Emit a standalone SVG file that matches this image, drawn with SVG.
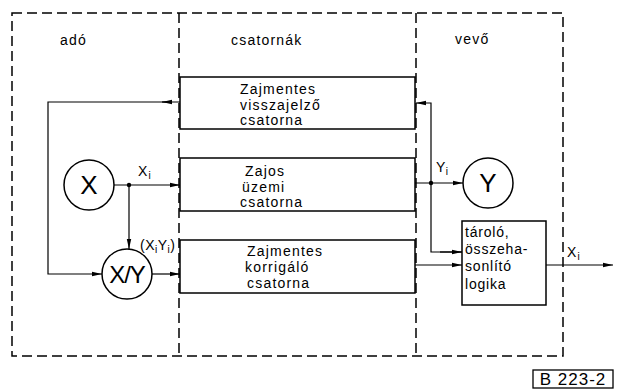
<svg xmlns="http://www.w3.org/2000/svg" width="619" height="391" viewBox="0 0 619 391">
<defs>
<style>
.t{font-family:"Liberation Sans",Arial,sans-serif;font-size:14px;fill:#000;letter-spacing:1.2px}
.s{font-size:10px}
.big{font-family:"Liberation Sans",Arial,sans-serif;font-size:26px;fill:#000}
.dash{fill:none;stroke:#000;stroke-width:1.5;stroke-dasharray:10 5}
.box{fill:#fff;stroke:#000;stroke-width:1.5}
.ln{fill:none;stroke:#000;stroke-width:1.2}
</style>
<marker id="ah" viewBox="0 0 10 6" refX="10" refY="3" markerWidth="10" markerHeight="6" markerUnits="userSpaceOnUse" orient="auto">
<path d="M0,0.8 L10,3 L0,5.2 Z" fill="#000"/>
</marker>
</defs>
<rect width="619" height="391" fill="#fff"/>
<g id="frame">
<rect class="dash" x="12" y="13" width="551" height="343"/>
<line class="dash" x1="179" y1="13" x2="179" y2="356"/>
<line class="dash" x1="416" y1="13" x2="416" y2="356"/>
<text class="t" x="60" y="45">adó</text>
<text class="t" x="231" y="45">csatornák</text>
<text class="t" x="455" y="44">vevő</text>
</g>
<g id="connectors">
<path class="ln" d="M180,102 H48 V274 H102" marker-end="url(#ah)"/>
<line class="ln" x1="170" y1="102" x2="162" y2="102" marker-end="url(#ah)"/>
<line class="ln" x1="114" y1="185" x2="180" y2="185" marker-end="url(#ah)"/>
<line class="ln" x1="129" y1="185" x2="129" y2="249" marker-end="url(#ah)"/>
<line class="ln" x1="152" y1="274" x2="180" y2="274" marker-end="url(#ah)"/>
<path class="ln" d="M462,252 H431 V103 H416" marker-end="url(#ah)"/>
<line class="ln" x1="440" y1="252" x2="462" y2="252" marker-end="url(#ah)"/>
<line class="ln" x1="415" y1="183" x2="463" y2="183" marker-end="url(#ah)"/>
<line class="ln" x1="415" y1="265" x2="462" y2="265" marker-end="url(#ah)"/>
<line class="ln" x1="546" y1="265" x2="613" y2="265" marker-end="url(#ah)"/>
<circle cx="129" cy="185" r="2.2" fill="#000"/>
<circle cx="431" cy="183" r="2.2" fill="#000"/>
<text class="t" x="138" y="176">X<tspan class="s" dy="3">i</tspan></text>
<text class="t" x="140" y="250" style="letter-spacing:0.5px">(X<tspan class="s" dy="3">i</tspan><tspan dy="-3">Y</tspan><tspan class="s" dy="3">i</tspan><tspan dy="-3">)</tspan></text>
<text class="t" x="436" y="172" style="letter-spacing:0.5px">Y<tspan class="s" dy="3">i</tspan></text>
<text class="t" x="567" y="257">X<tspan class="s" dy="3">i</tspan></text>
</g>
<g id="ch1">
<rect class="box" x="180" y="77" width="235" height="52"/>
<text class="t" x="240" y="94">Zajmentes</text>
<text class="t" x="240" y="110">visszajelző</text>
<text class="t" x="240" y="125">csatorna</text>
</g>
<g id="ch2">
<rect class="box" x="180" y="158" width="235" height="53"/>
<text class="t" x="245" y="176">Zajos</text>
<text class="t" x="242" y="192">üzemi</text>
<text class="t" x="240" y="207">csatorna</text>
</g>
<g id="ch3">
<rect class="box" x="180" y="240" width="235" height="53"/>
<text class="t" x="247" y="256">Zajmentes</text>
<text class="t" x="245" y="272">korrigáló</text>
<text class="t" x="247" y="288">csatorna</text>
</g>
<g id="nodeX">
<circle class="box" cx="89" cy="185" r="25"/>
<text class="big" x="89" y="194" text-anchor="middle">X</text>
</g>
<g id="nodeXY">
<circle class="box" cx="127" cy="274" r="25"/>
<text class="big" x="127" y="283" text-anchor="middle" style="font-size:24px;letter-spacing:-1px">X/Y</text>
</g>
<g id="nodeY">
<circle class="box" cx="488" cy="183" r="25"/>
<text class="big" x="488" y="192" text-anchor="middle">Y</text>
</g>
<g id="logic">
<rect class="box" x="462" y="221" width="84" height="84"/>
<text class="t" x="465" y="237" style="letter-spacing:0.8px">tároló,</text>
<text class="t" x="465" y="254" style="letter-spacing:0.8px">összeha-</text>
<text class="t" x="465" y="271" style="letter-spacing:0.8px">sonlító</text>
<text class="t" x="465" y="289" style="letter-spacing:0.8px">logika</text>
</g>
<g id="label">
<rect x="533" y="370" width="80" height="18" fill="#fff" stroke="#000" stroke-width="1.3"/>
<text class="t" x="573" y="385" text-anchor="middle" style="font-size:17px;letter-spacing:1px">B 223-2</text>
</g>
</svg>
